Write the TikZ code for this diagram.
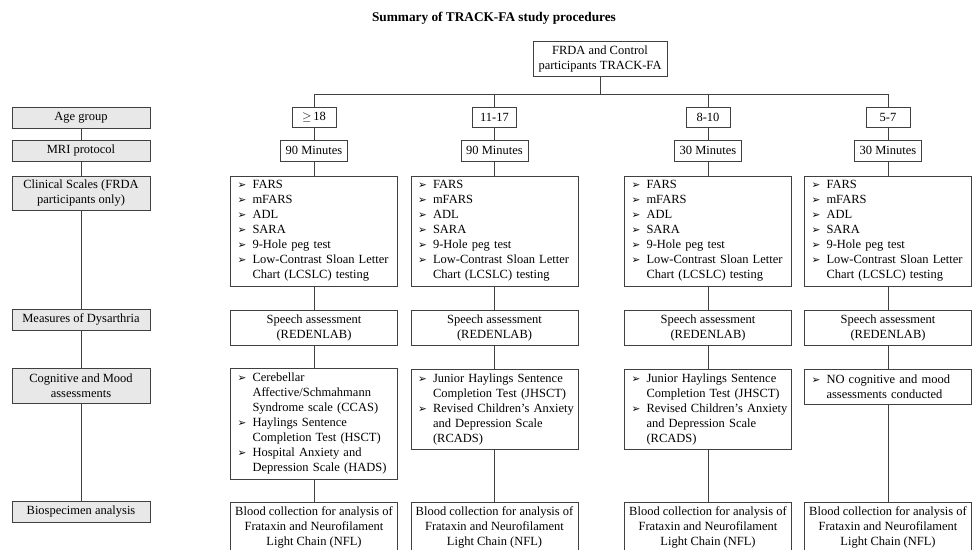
\documentclass[tikz,border=0pt]{standalone}
\usepackage{fontspec}
\setmainfont{Liberation Serif}
\newfontfamily\dejavu{DejaVu Sans}
\newcommand\bul{{\dejavu\fontsize{10.5}{10}\selectfont ➢}}
\newcommand\itm{\hspace*{3.5pt}\makebox[15pt][l]{\bul}}
\newcommand\cnt{\hspace*{18.5pt}}
\newcommand\listfont{\fontsize{12.5}{15}\selectfont\hyphenpenalty=10000\relax\exhyphenpenalty=10000\relax\hbadness=10000\relax\hfuzz=20pt\relax}
\begin{document}
\begin{tikzpicture}[x=1pt,y=-1pt,
  ln/.style={draw=black!75, line width=0.8pt},
  box/.style={ln, inner sep=0pt, font=\fontsize{12.5}{15}\selectfont, align=center, fill=white},
  lbl/.style={box, fill=gray!18, minimum width=138pt},
  agebox/.style={box, minimum width=44pt, minimum height=20pt},
  minbox/.style={box, minimum width=67pt, minimum height=21pt},
  colbox/.style={box, minimum width=167pt},
  listbox/.style={box, align=left, text width=160pt, minimum width=167pt, font=\listfont}
]
\useasboundingbox (0,0) rectangle (979,549);
\clip (0,0) rectangle (979,549);

\node[font=\fontsize{13.3}{15}\selectfont\bfseries] (title) at (494,18) {Summary of TRACK-FA study procedures};
\node[box, minimum width=134pt, minimum height=35pt] (top) at (600,58.5) {FRDA and Control\\participants TRACK-FA};

% left labels
\node[lbl, minimum height=21pt] (ag) at (81,117.5) {Age group};
\node[lbl, minimum height=21pt] (mri) at (81,150.5) {MRI protocol};
\node[lbl, minimum height=34pt] (cs) at (81,193) {Clinical Scales (FRDA\\participants only)};
\node[lbl, minimum height=21pt] (md) at (81,319.5) {Measures of Dysarthria};
\node[lbl, minimum height=35pt] (cm) at (81,385.5) {Cognitive and Mood\\assessments};
\node[lbl, minimum height=21pt] (bs) at (81,511.5) {Biospecimen analysis};

\draw[ln] (ag) -- (mri); \draw[ln] (mri) -- (cs); \draw[ln] (cs) -- (md);
\draw[ln] (md) -- (cm); \draw[ln] (cm) -- (bs);

% top tree
\coordinate (hl) at (314,94);
\coordinate (hr) at (888,94);
\coordinate (hm) at (600,94);
\draw[ln] (hl) -- (hr);
\draw[ln] (top) -- (hm);

% columns
\foreach \c/\x/\age/\mins in {1/314/{$\geq$\,18}/90, 2/494.5/11-17/90, 3/708/8-10/30, 4/888/5-7/30}{
  \node[agebox] (a\c) at (\x,117) {\age};
  \node[minbox] (m\c) at (\x,150.5) {\mins{} Minutes};
  \node[listbox, minimum height=110pt] (k\c) at (\x,231)
    {\itm FARS\\ \itm mFARS\\ \itm ADL\\ \itm SARA\\ \itm 9-Hole peg test\\ \itm Low-Contrast Sloan Letter\\ \cnt Chart (LCSLC) testing};
  \node[colbox, minimum height=35pt] (s\c) at (\x,327.5) {Speech assessment\\(REDENLAB)};
  \node[colbox, minimum height=51pt] (b\c) at (\x,527.5) {Blood collection for analysis of\\Frataxin and Neurofilament\\Light Chain (NFL)};
  \coordinate (t\c) at (\x,94);
  \draw[ln] (t\c) -- (a\c); \draw[ln] (a\c) -- (m\c); \draw[ln] (m\c) -- (k\c); \draw[ln] (k\c) -- (s\c);
}

\node[listbox, minimum height=111pt] (g1) at (314,423.5)
  {\itm Cerebellar\\ \cnt Affective/Schmahmann\\ \cnt Syndrome scale (CCAS)\\ \itm Haylings Sentence\\ \cnt Completion Test (HSCT)\\ \itm Hospital Anxiety and\\ \cnt Depression Scale (HADS)};
\node[listbox, minimum height=80pt] (g2) at (494.5,409)
  {\itm Junior Haylings Sentence\\ \cnt Completion Test (JHSCT)\\ \itm Revised Children’s Anxiety\\ \cnt and Depression Scale\\ \cnt (RCADS)};
\node[listbox, minimum height=80pt] (g3) at (708,409)
  {\itm Junior Haylings Sentence\\ \cnt Completion Test (JHSCT)\\ \itm Revised Children’s Anxiety\\ \cnt and Depression Scale\\ \cnt (RCADS)};
\node[listbox, minimum height=35pt] (g4) at (888,386.5)
  {\itm NO cognitive and mood\\ \cnt assessments conducted};

\foreach \c in {1,2,3,4}{
  \draw[ln] (s\c) -- (g\c); \draw[ln] (g\c) -- (b\c);
}
\end{tikzpicture}
\end{document}
